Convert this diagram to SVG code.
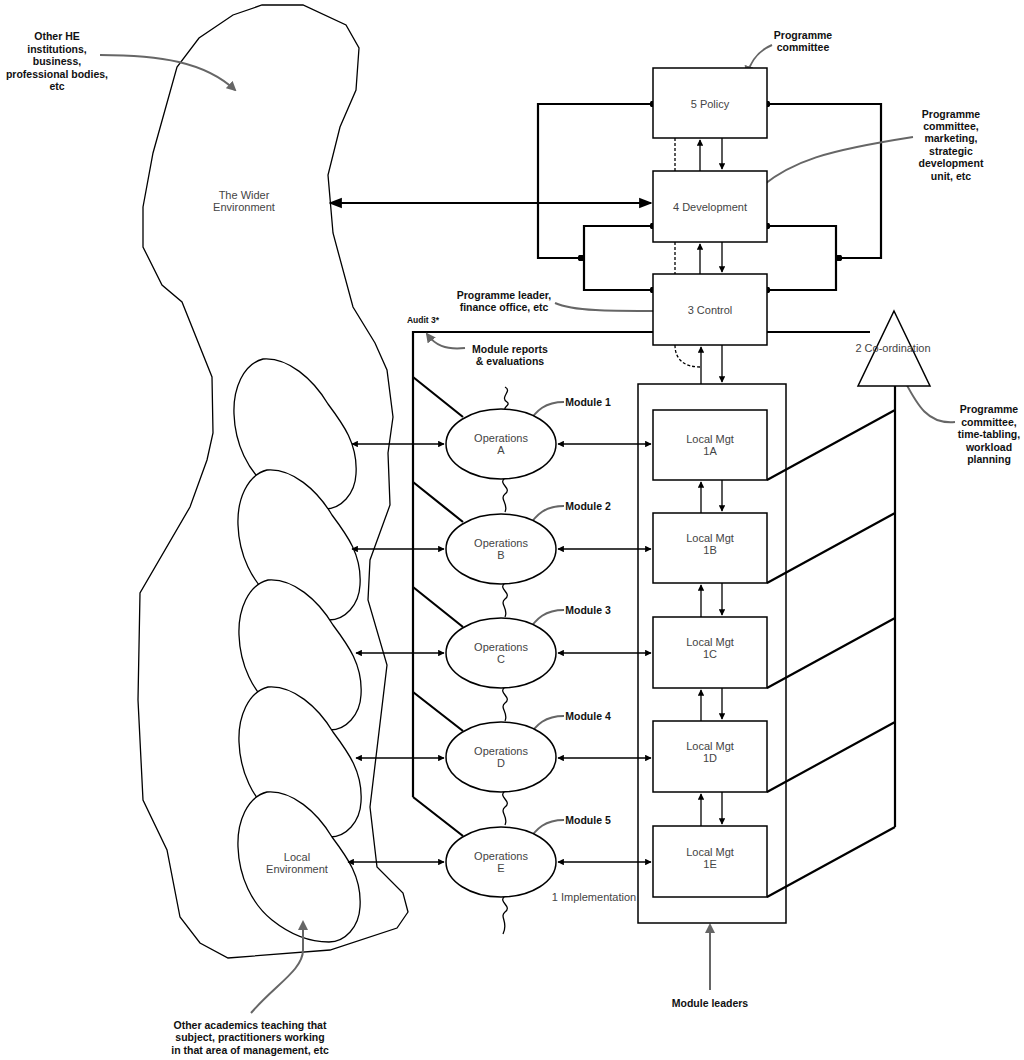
<svg xmlns="http://www.w3.org/2000/svg" width="1024" height="1060" viewBox="0 0 1024 1060">
<style>
.l{fill:none;stroke:#000;stroke-width:1.3}
.t{fill:none;stroke:#000;stroke-width:2.2}
.box{fill:#fff;stroke:#000;stroke-width:1.5}
.blob{fill:#fff;stroke:#000;stroke-width:1.3}
.g{fill:none;stroke:#666;stroke-width:2}
.n{font-family:"Liberation Sans",Arial,sans-serif;font-size:11px;fill:#444;text-anchor:middle}
.b{font-family:"Liberation Sans",Arial,sans-serif;font-size:10.5px;font-weight:bold;fill:#111;text-anchor:middle}
</style>
<defs>
<marker id="a" viewBox="0 0 10 10" refX="9" refY="5" markerWidth="6" markerHeight="6" orient="auto-start-reverse"><path d="M0,1 L10,5 L0,9 z" fill="#000"/></marker>
<marker id="A" viewBox="0 0 10 10" refX="9" refY="5" markerWidth="5" markerHeight="5" orient="auto-start-reverse"><path d="M0,0 L10,5 L0,10 z" fill="#000"/></marker>
<marker id="ga" viewBox="0 0 10 10" refX="8" refY="5" markerWidth="5" markerHeight="5" orient="auto"><path d="M0,0 L10,5 L0,10 z" fill="#666"/></marker>
<marker id="d" viewBox="0 0 6 6" refX="3" refY="3" markerWidth="3" markerHeight="3"><circle cx="3" cy="3" r="3" fill="#000"/></marker>
<path id="egg" d="M0,0 C25,-2 50,20 65,45 C80,65 95,85 93,115 C92,135 78,150 62,150 C40,150 20,140 5,128 C-15,112 -28,85 -29,55 C-30,30 -20,5 0,0 Z"/>
</defs>

<g id="wider-environment">
<path class="blob" d="M262,5 L303,5 L346,25 L359,48 L356,90 L340,127 L328,175 L333,233 L353,307 L375,343 L387,370 L393,417 L388,453 L390,505 L370,560 L368,600 L387,665 L370,807 L377,867 L403,893 L408,912 L397,928 L330,950 L228,958 L200,943 L180,917 L167,850 L143,800 L138,700 L140,593 L190,507 L207,460 L213,433 L212,377 L182,302 L162,285 L143,247 L143,207 L153,153 L177,67 L199,38 L233,15 Z"/>
<text class="n" x="244" y="199">The Wider</text>
<text class="n" x="244" y="211">Environment</text>
</g>
<g id="local-environment">
<use href="#egg" class="blob" x="263" y="359"/>
<use href="#egg" class="blob" x="267" y="470"/>
<use href="#egg" class="blob" x="268" y="580"/>
<use href="#egg" class="blob" x="268" y="687"/>
<use href="#egg" class="blob" x="267" y="792"/>
<text class="n" x="297" y="861">Local</text>
<text class="n" x="297" y="873">Environment</text>
</g>

<g id="connectors">
<!-- wavy line -->
<path class="l" d="M505,387 c8,4 -6,10 2,15 c4,3 -4,5 -2,8 M505,478 c-8,6 8,10 0,16 c-6,5 4,10 0,18 M505,583 c-8,6 8,10 0,16 c-6,5 4,10 0,18 M505,687 c-8,6 8,10 0,16 c-6,5 4,10 0,18 M505,791 c-8,6 8,10 0,16 c-6,5 4,10 0,18 M505,896 c-8,6 8,10 0,16 c-6,5 4,10 -2,22"/>
<!-- policy/dev/control loops -->
<path class="t" d="M653,104 H538 V258 H581" marker-start="url(#d)" marker-end="url(#d)"/>
<path class="t" d="M653,226 H584 V290 H653" marker-start="url(#d)" marker-end="url(#d)"/>
<path class="t" d="M767,104 H881 V258 H839" marker-start="url(#d)" marker-end="url(#d)"/>
<path class="t" d="M767,226 H836 V290 H767" marker-start="url(#d)" marker-end="url(#d)"/>
<line class="t" x1="330" y1="203" x2="651" y2="203" marker-start="url(#a)" marker-end="url(#a)"/>
<!-- vertical arrows -->
<line class="l" x1="700" y1="171" x2="700" y2="140" marker-end="url(#A)"/>
<line class="l" x1="722" y1="138" x2="722" y2="169" marker-end="url(#A)"/>
<line class="l" x1="700" y1="274" x2="700" y2="244" marker-end="url(#A)"/>
<line class="l" x1="722" y1="242" x2="722" y2="272" marker-end="url(#A)"/>
<line class="l" x1="701" y1="384" x2="701" y2="347" marker-end="url(#A)"/>
<line class="l" x1="722" y1="345" x2="722" y2="382" marker-end="url(#A)"/>
<path class="l" stroke-dasharray="3,2" d="M675,138 V171 M675,242 V274 M675,345 C675,360 685,367 700,367"/>
<line class="l" x1="701" y1="513" x2="701" y2="482" marker-end="url(#A)"/>
<line class="l" x1="722" y1="480" x2="722" y2="511" marker-end="url(#A)"/>
<line class="l" x1="701" y1="617" x2="701" y2="585" marker-end="url(#A)"/>
<line class="l" x1="722" y1="583" x2="722" y2="615" marker-end="url(#A)"/>
<line class="l" x1="701" y1="721" x2="701" y2="690" marker-end="url(#A)"/>
<line class="l" x1="722" y1="688" x2="722" y2="719" marker-end="url(#A)"/>
<line class="l" x1="701" y1="826" x2="701" y2="794" marker-end="url(#A)"/>
<line class="l" x1="722" y1="792" x2="722" y2="824" marker-end="url(#A)"/>
<!-- audit / control lines -->
<path class="t" d="M653,332 H413 V797"/>
<line class="t" x1="767" y1="332" x2="870" y2="332"/>
<path class="t" d="M413,377 L463,417 M413,482 L463,522 M413,587 L463,627 M413,692 L463,731 M413,797 L463,836"/>
<!-- co-ordination -->
<path class="t" d="M895,386 V827 M767,480 L895,410 M767,583 L895,513 M767,688 L895,618 M767,792 L895,722 M767,897 L895,827"/>
<!-- horizontal double arrows -->
<g class="l">
<line x1="352" y1="444" x2="444" y2="444" marker-start="url(#A)" marker-end="url(#A)"/>
<line x1="558" y1="444" x2="651" y2="444" marker-start="url(#A)" marker-end="url(#A)"/>
<line x1="352" y1="549" x2="444" y2="549" marker-start="url(#A)" marker-end="url(#A)"/>
<line x1="558" y1="549" x2="651" y2="549" marker-start="url(#A)" marker-end="url(#A)"/>
<line x1="356" y1="653" x2="444" y2="653" marker-start="url(#A)" marker-end="url(#A)"/>
<line x1="558" y1="653" x2="651" y2="653" marker-start="url(#A)" marker-end="url(#A)"/>
<line x1="356" y1="758" x2="444" y2="758" marker-start="url(#A)" marker-end="url(#A)"/>
<line x1="558" y1="758" x2="651" y2="758" marker-start="url(#A)" marker-end="url(#A)"/>
<line x1="348" y1="862" x2="444" y2="862" marker-start="url(#A)" marker-end="url(#A)"/>
<line x1="558" y1="862" x2="651" y2="862" marker-start="url(#A)" marker-end="url(#A)"/>
</g>
<!-- grey annotation arrows -->
<g class="g">
<path d="M100,55 C160,55 205,62 235,90" marker-end="url(#ga)"/>
<path d="M772,45 C760,50 752,58 747,74" marker-end="url(#ga)"/>
<path d="M913,137 C830,150 790,160 755,192" marker-end="url(#ga)"/>
<path d="M555,303 C575,312 620,311 666,311" marker-end="url(#ga)"/>
<path d="M465,348 C445,350 435,345 427,334" marker-end="url(#ga)"/>
<path d="M955,422 C925,425 915,400 902,376" marker-end="url(#ga)"/>
<path d="M710,990 V925" marker-end="url(#ga)"/>
<path d="M251,1013 C275,985 303,970 303,950 V922" marker-end="url(#ga)"/>
<path d="M564,402 C545,402 537,410 527,424" marker-end="url(#ga)"/>
<path d="M564,506 C545,506 537,514 527,528" marker-end="url(#ga)"/>
<path d="M564,610 C545,610 537,618 527,632" marker-end="url(#ga)"/>
<path d="M564,716 C545,716 537,724 527,738" marker-end="url(#ga)"/>
<path d="M564,820 C545,820 537,828 527,842" marker-end="url(#ga)"/>
</g>
</g>

<g id="implementation"><rect class="box" x="638" y="384" width="148" height="539" fill="none" style="fill:none"/><text class="n" x="594" y="901">1 Implementation</text></g>
<g id="policy"><rect class="box" x="653" y="68" width="114" height="70"/><text class="n" x="710" y="108">5 Policy</text></g>
<g id="development"><rect class="box" x="653" y="171" width="114" height="71"/><text class="n" x="710" y="211">4 Development</text></g>
<g id="control"><rect class="box" x="653" y="274" width="114" height="71"/><text class="n" x="710" y="314">3 Control</text></g>
<g id="coordination"><path class="box" d="M894,311 L930,386 L858,386 Z"/><text class="n" x="893" y="352">2 Co-ordination</text></g>

<g id="local-1a"><rect class="box" x="653" y="410" width="114" height="70"/><text class="n" x="710" y="443">Local Mgt</text><text class="n" x="710" y="455">1A</text></g>
<g id="local-1b"><rect class="box" x="653" y="513" width="114" height="70"/><text class="n" x="710" y="542">Local Mgt</text><text class="n" x="710" y="554">1B</text></g>
<g id="local-1c"><rect class="box" x="653" y="617" width="114" height="71"/><text class="n" x="710" y="646">Local Mgt</text><text class="n" x="710" y="658">1C</text></g>
<g id="local-1d"><rect class="box" x="653" y="721" width="114" height="71"/><text class="n" x="710" y="750">Local Mgt</text><text class="n" x="710" y="762">1D</text></g>
<g id="local-1e"><rect class="box" x="653" y="826" width="114" height="71"/><text class="n" x="710" y="856">Local Mgt</text><text class="n" x="710" y="868">1E</text></g>

<g id="ops-a"><ellipse class="box" cx="501" cy="444" rx="55" ry="35"/><text class="n" x="501" y="442">Operations</text><text class="n" x="501" y="454">A</text></g>
<g id="ops-b"><ellipse class="box" cx="501" cy="549" rx="55" ry="35"/><text class="n" x="501" y="547">Operations</text><text class="n" x="501" y="559">B</text></g>
<g id="ops-c"><ellipse class="box" cx="501" cy="653" rx="55" ry="35"/><text class="n" x="501" y="651">Operations</text><text class="n" x="501" y="663">C</text></g>
<g id="ops-d"><ellipse class="box" cx="501" cy="757" rx="55" ry="35"/><text class="n" x="501" y="755">Operations</text><text class="n" x="501" y="767">D</text></g>
<g id="ops-e"><ellipse class="box" cx="501" cy="862" rx="55" ry="35"/><text class="n" x="501" y="860">Operations</text><text class="n" x="501" y="872">E</text></g>

<g id="labels">
<text class="b" x="57" y="40">Other HE</text>
<text class="b" x="57" y="53">institutions,</text>
<text class="b" x="57" y="65">business,</text>
<text class="b" x="57" y="78">professional bodies,</text>
<text class="b" x="57" y="90">etc</text>
<text class="b" x="803" y="39">Programme</text>
<text class="b" x="803" y="51">committee</text>
<text class="b" x="951" y="118">Programme</text>
<text class="b" x="951" y="130">committee,</text>
<text class="b" x="951" y="142">marketing,</text>
<text class="b" x="951" y="155">strategic</text>
<text class="b" x="951" y="167">development</text>
<text class="b" x="951" y="180">unit, etc</text>
<text class="b" x="504" y="299">Programme leader,</text>
<text class="b" x="504" y="311">finance office, etc</text>
<text class="b" x="423" y="323" style="font-size:8.5px">Audit 3*</text>
<text class="b" x="510" y="353">Module reports</text>
<text class="b" x="510" y="365">&amp; evaluations</text>
<text class="b" x="588" y="406">Module 1</text>
<text class="b" x="588" y="510">Module 2</text>
<text class="b" x="588" y="614">Module 3</text>
<text class="b" x="588" y="720">Module 4</text>
<text class="b" x="588" y="824">Module 5</text>
<text class="b" x="989" y="413">Programme</text>
<text class="b" x="989" y="426">committee,</text>
<text class="b" x="989" y="438">time-tabling,</text>
<text class="b" x="989" y="451">workload</text>
<text class="b" x="989" y="463">planning</text>
<text class="b" x="710" y="1007">Module leaders</text>
<text class="b" x="250" y="1029">Other academics teaching that</text>
<text class="b" x="250" y="1041">subject, practitioners working</text>
<text class="b" x="250" y="1054">in that area of management, etc</text>
</g>
</svg>
